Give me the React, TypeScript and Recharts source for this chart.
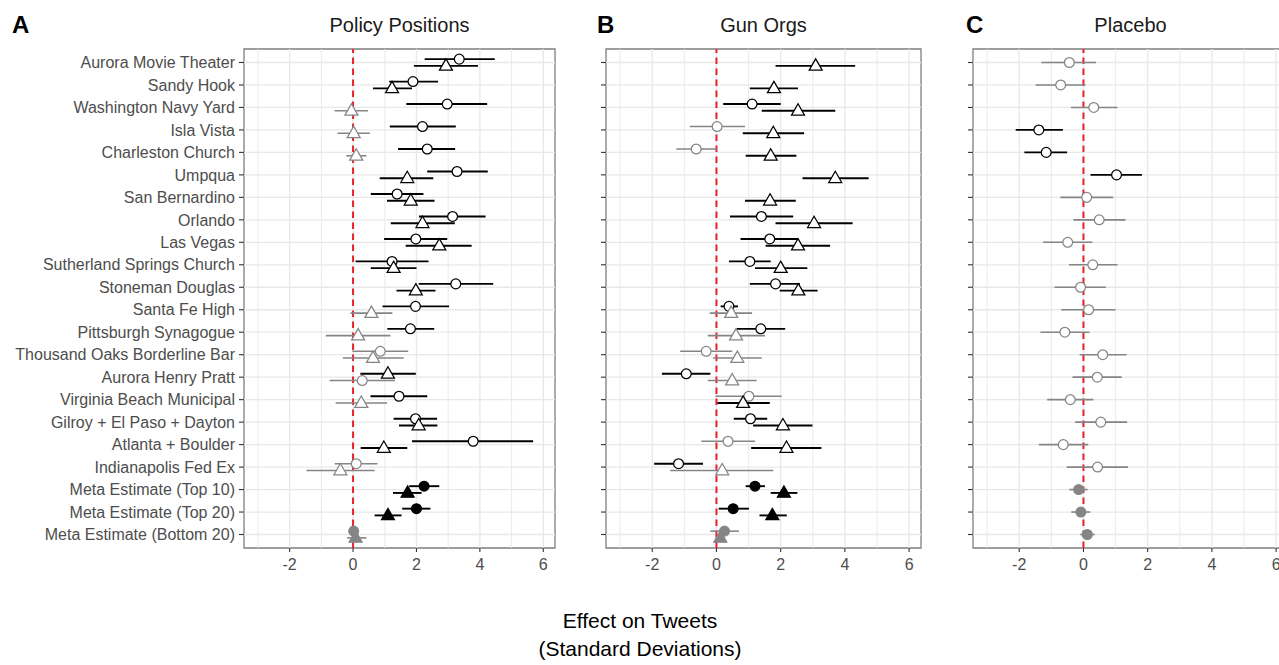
import React from 'react';
import {
  ScatterChart,
  Scatter,
  XAxis,
  YAxis,
  ErrorBar,
  ReferenceLine,
  ReferenceArea,
} from 'recharts';

// ---------- data ----------
const rowLabels = [
  'Aurora Movie Theater',
  'Sandy Hook',
  'Washington Navy Yard',
  'Isla Vista',
  'Charleston Church',
  'Umpqua',
  'San Bernardino',
  'Orlando',
  'Las Vegas',
  'Sutherland Springs Church',
  'Stoneman Douglas',
  'Santa Fe High',
  'Pittsburgh Synagogue',
  'Thousand Oaks Borderline Bar',
  'Aurora Henry Pratt',
  'Virginia Beach Municipal',
  'Gilroy + El Paso + Dayton',
  'Atlanta + Boulder',
  'Indianapolis Fed Ex',
  'Meta Estimate (Top 10)',
  'Meta Estimate (Top 20)',
  'Meta Estimate (Bottom 20)',
];

// rows that hold pooled (meta) estimates, drawn with filled markers
const metaRows = [20, 21, 22];

const xTicks = [-2, 0, 2, 4, 6];
const xGrid = [-3, -2, -1, 0, 1, 2, 3, 4, 5, 6];
const xDomain: [number, number] = [-3.44, 6.37];

// Policy Positions — circles
const policyCircleEst = [3.35, 1.89, 2.97, 2.19, 2.34, 3.28, 1.39, 3.14, 1.98, 1.23, 3.24, 1.97, 1.81, 0.86, 0.29, 1.45, 1.97, 3.79, 0.1, 2.24, 2.0, 0.02];
const policyCircleLo = [2.26, 1.14, 1.68, 1.16, 1.42, 2.34, 0.56, 2.08, 0.98, 0.08, 2.07, 0.93, 1.08, -0.02, -0.74, 0.55, 1.28, 1.86, -0.58, 1.77, 1.55, -0.06];
const policyCircleHi = [4.47, 2.68, 4.23, 3.24, 3.22, 4.25, 2.22, 4.18, 2.97, 2.38, 4.42, 3.03, 2.56, 1.74, 1.32, 2.34, 2.65, 5.68, 0.77, 2.72, 2.44, 0.1];
// Policy Positions — triangles
const policyTriEst = [2.93, 1.23, -0.05, 0.02, 0.1, 1.71, 1.82, 2.19, 2.72, 1.28, 1.98, 0.58, 0.16, 0.63, 1.1, 0.26, 2.07, 0.97, -0.4, 1.72, 1.1, 0.08];
const policyTriLo = [1.92, 0.63, -0.58, -0.49, -0.21, 0.84, 1.07, 1.19, 1.66, 0.56, 1.37, -0.08, -0.86, -0.32, 0.23, -0.55, 1.45, 0.24, -1.47, 1.26, 0.68, -0.19];
const policyTriHi = [3.94, 1.86, 0.47, 0.53, 0.42, 2.53, 2.57, 3.21, 3.74, 2.0, 2.6, 1.24, 1.18, 1.6, 1.98, 1.07, 2.66, 1.71, 0.68, 2.16, 1.53, 0.42];

// Gun Orgs — circles (null: no estimate)
const gunCircleEst = [null, null, 1.11, 0.02, -0.63, null, null, 1.4, 1.66, 1.04, 1.84, 0.39, 1.38, -0.32, -0.94, 1.01, 1.06, 0.36, -1.18, 1.2, 0.52, 0.25];
const gunCircleLo = [null, null, 0.21, -0.83, -1.25, null, null, 0.42, 0.75, 0.39, 1.04, 0.13, 0.63, -1.13, -1.7, -0.03, 0.54, -0.47, -1.94, 0.91, 0.07, -0.19];
const gunCircleHi = [null, null, 2.0, 0.89, 0.02, null, null, 2.39, 2.54, 1.69, 2.6, 0.67, 2.14, 0.49, -0.19, 2.03, 1.58, 1.2, -0.42, 1.51, 1.01, 0.7];
// Gun Orgs — triangles
const gunTriEst = [3.09, 1.79, 2.54, 1.77, 1.69, 3.7, 1.67, 3.04, 2.54, 2.0, 2.55, 0.46, 0.61, 0.65, 0.49, 0.83, 2.07, 2.18, 0.18, 2.1, 1.74, 0.12];
const gunTriLo = [1.84, 1.04, 1.41, 0.82, 0.91, 2.68, 0.89, 1.84, 1.53, 1.2, 1.97, -0.21, -0.27, -0.11, -0.27, 0.03, 1.14, 1.08, -1.44, 1.69, 1.34, -0.03];
const gunTriHi = [4.32, 2.54, 3.7, 2.73, 2.49, 4.74, 2.47, 4.24, 3.54, 2.83, 3.15, 1.11, 1.51, 1.41, 1.25, 1.66, 2.99, 3.27, 1.77, 2.52, 2.19, 0.26];

// Placebo — circles
const placeboEst = [-0.44, -0.71, 0.32, -1.39, -1.16, 1.03, 0.1, 0.49, -0.49, 0.29, -0.09, 0.16, -0.58, 0.6, 0.43, -0.41, 0.54, -0.63, 0.44, -0.15, -0.08, 0.12];
const placeboLo = [-1.31, -1.49, -0.39, -2.11, -1.84, 0.22, -0.72, -0.31, -1.26, -0.45, -0.9, -0.69, -1.34, -0.12, -0.34, -1.13, -0.26, -1.39, -0.52, -0.44, -0.38, -0.1];
const placeboHi = [0.39, 0.06, 1.06, -0.64, -0.51, 1.82, 0.93, 1.31, 0.28, 1.06, 0.7, 1.0, 0.19, 1.34, 1.19, 0.31, 1.36, 0.15, 1.39, 0.13, 0.21, 0.35];

// ---------- styling ----------
const BLACK = '#000000';
const GREY = '#858585';
const RED = '#e8202a';
const GRID = '#e8e8e8';
const FONT = '"Liberation Sans", Arial, Helvetica, sans-serif';

const rows = rowLabels.map((_, i) => i + 1);
const DODGE = 0.15;

type Pt = { x: number; y: number; err: [number, number]; sig: boolean; meta: boolean };

function buildPoints(
  est: (number | null)[],
  lo: (number | null)[],
  hi: (number | null)[],
  offsets: number[],
): Pt[] {
  const out: Pt[] = [];
  est.forEach((v, i) => {
    if (v == null) return;
    const l = lo[i] as number;
    const h = hi[i] as number;
    const row = i + 1;
    out.push({
      x: v,
      y: row + offsets[i],
      err: [v - l, h - v],
      sig: l > 0 || h < 0,
      meta: metaRows.includes(row),
    });
  });
  return out;
}

const up = rows.map(() => -DODGE);
const down = rows.map(() => DODGE);
const centre = rows.map(() => 0);
// in the Aurora Henry Pratt row of the policy panel the order is flipped
const policyCircleOffset = up.map((o, i) => (i === 14 ? DODGE : o));
const policyTriOffset = down.map((o, i) => (i === 14 ? -DODGE : o));

const circleShape = (stroke: string, fill: string) => (p: any) => (
  <circle cx={p.cx} cy={p.cy} r={4.9} fill={fill} stroke={stroke} strokeWidth={1.25} />
);
const triangleShape = (stroke: string, fill: string) => (p: any) => {
  const { cx, cy } = p;
  const d = `M${cx},${cy - 7} L${cx + 6.5},${cy + 4.3} L${cx - 6.5},${cy + 4.3} Z`;
  return <path d={d} fill={fill} stroke={stroke} strokeWidth={1.25} strokeLinejoin="miter" />;
};

type Marker = 'circle' | 'triangle';

function seriesFor(points: Pt[], marker: Marker, keyBase: string) {
  const groups = [
    { sig: true, meta: false },
    { sig: false, meta: false },
    { sig: true, meta: true },
    { sig: false, meta: true },
  ];
  return groups.map((g, gi) => {
    const data = points.filter((p) => p.sig === g.sig && p.meta === g.meta);
    if (!data.length) return null;
    const col = g.sig ? BLACK : GREY;
    const fill = g.meta ? col : '#ffffff';
    const shape = marker === 'circle' ? circleShape(col, fill) : triangleShape(col, fill);
    return (
      <Scatter
        key={`${keyBase}-${gi}`}
        data={data}
        shape={shape}
        isAnimationActive={false}
      >
        <ErrorBar
          dataKey="err"
          direction="x"
          width={0}
          stroke={col}
          strokeWidth={g.sig ? 1.9 : 1.6}
        />
      </Scatter>
    );
  });
}

type PanelProps = {
  plotLeft: number;
  plotWidth: number;
  showLabels: boolean;
  circles: Pt[];
  triangles: Pt[];
};

const TOP = 49;
const PLOT_H = 499;
const XAXIS_H = 30;
const CHART_H = TOP + PLOT_H + XAXIS_H;

function Panel({ plotLeft, plotWidth, showLabels, circles, triangles }: PanelProps) {
  const yw = showLabels ? plotLeft : 45;
  const left = plotLeft - yw;
  const width = yw + plotWidth + 1;
  return (
    <div style={{ position: 'absolute', left, top: 0 }}>
      <ScatterChart
        width={width}
        height={CHART_H}
        margin={{ top: TOP, right: 1, bottom: 0, left: 0 }}
      >
        <XAxis
          type="number"
          dataKey="x"
          domain={xDomain}
          ticks={xTicks}
          interval={0}
          allowDataOverflow
          axisLine={false}
          tickLine={{ stroke: '#333333', strokeWidth: 1.1 }}
          tickSize={4}
          tickMargin={7}
          height={XAXIS_H}
          tick={{ fill: '#4d4d4d', fontSize: 16 }}
        />
        <YAxis
          type="number"
          dataKey="y"
          domain={[0.4, 22.6]}
          reversed
          ticks={rows}
          interval={0}
          allowDataOverflow
          axisLine={false}
          tickLine={{ stroke: '#333333', strokeWidth: 1.1 }}
          tickSize={5}
          tickMargin={4}
          width={yw}
          tick={{ fill: '#4d4d4d', fontSize: 16 }}
          tickFormatter={(v: number) => (showLabels ? rowLabels[v - 1] ?? '' : '')}
        />
        {xGrid.map((v) => (
          <ReferenceLine
            key={`gx${v}`}
            x={v}
            stroke={GRID}
            strokeWidth={v % 2 === 0 ? 1.3 : 0.9}
          />
        ))}
        {rows.map((r) => (
          <ReferenceLine key={`gy${r}`} y={r} stroke={GRID} strokeWidth={1.3} />
        ))}
        <ReferenceLine x={0} stroke={RED} strokeWidth={2} strokeDasharray="6.5 4.5" />
        {seriesFor(circles, 'circle', 'c')}
        {seriesFor(triangles, 'triangle', 't')}
        <ReferenceArea
          x1={xDomain[0]}
          x2={xDomain[1]}
          y1={0.4}
          y2={22.6}
          fill="none"
          fillOpacity={0}
          stroke="#7f7f7f"
          strokeWidth={1.3}
        />
      </ScatterChart>
    </div>
  );
}

const policyCircles = buildPoints(policyCircleEst, policyCircleLo, policyCircleHi, policyCircleOffset);
const policyTriangles = buildPoints(policyTriEst, policyTriLo, policyTriHi, policyTriOffset);
const gunCircles = buildPoints(gunCircleEst, gunCircleLo, gunCircleHi, up);
const gunTriangles = buildPoints(gunTriEst, gunTriLo, gunTriHi, down);
const placeboCircles = buildPoints(placeboEst, placeboLo, placeboHi, centre);

const panels = [
  { tag: 'A', title: 'Policy Positions', plotLeft: 244, plotWidth: 311, labels: true, c: policyCircles, t: policyTriangles },
  { tag: 'B', title: 'Gun Orgs', plotLeft: 606, plotWidth: 315, labels: false, c: gunCircles, t: gunTriangles },
  { tag: 'C', title: 'Placebo', plotLeft: 973, plotWidth: 315, labels: false, c: placeboCircles, t: [] as Pt[] },
];
const tagX = [12, 597, 966];

export default function App() {
  return (
    <div
      style={{
        position: 'fixed',
        left: 0,
        top: 0,
        width: 1279,
        height: 665,
        overflow: 'hidden',
        background: '#ffffff',
        fontFamily: FONT,
      }}
    >
      {panels.map((p, i) => (
        <React.Fragment key={p.tag}>
          <div
            style={{
              position: 'absolute',
              left: tagX[i],
              top: 11,
              fontSize: 24,
              fontWeight: 'bold',
              color: '#000',
              lineHeight: '28px',
            }}
          >
            {p.tag}
          </div>
          <div
            style={{
              position: 'absolute',
              left: p.plotLeft,
              width: p.plotWidth,
              top: 12,
              textAlign: 'center',
              fontSize: 20,
              color: '#1a1a1a',
              lineHeight: '26px',
              whiteSpace: 'nowrap',
            }}
          >
            {p.title}
          </div>
          <Panel
            plotLeft={p.plotLeft}
            plotWidth={p.plotWidth}
            showLabels={p.labels}
            circles={p.c}
            triangles={p.t}
          />
        </React.Fragment>
      ))}
      <div
        style={{
          position: 'absolute',
          left: 440,
          width: 400,
          top: 607,
          textAlign: 'center',
          fontSize: 21,
          color: '#000',
          lineHeight: '28px',
        }}
      >
        <div>Effect on Tweets</div>
        <div>(Standard Deviations)</div>
      </div>
    </div>
  );
}
